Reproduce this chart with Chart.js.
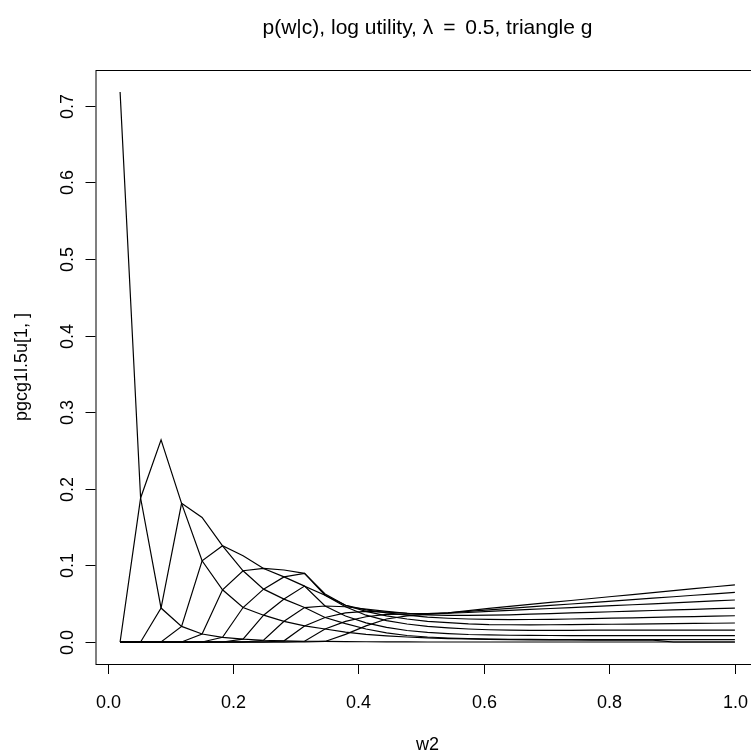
<!DOCTYPE html>
<html>
<head>
<meta charset="utf-8">
<script src="https://cdn.jsdelivr.net/npm/chart.js@4"></script>
<style>
  html, body { margin: 0; padding: 0; background: #fff; overflow: hidden; }
  #wrap { width: 770px; height: 754px; }
</style>
</head>
<body>
<div id="wrap"><canvas id="myChart" width="770" height="754"></canvas></div>
<script>
// w2 grid (31 points) and one row of p(w|c) per curve
const w2 = [0.02, 0.0527, 0.0853, 0.118, 0.1507, 0.1833, 0.216, 0.2487, 0.2813, 0.314,
  0.3467, 0.3793, 0.412, 0.4447, 0.4773, 0.51, 0.5427, 0.5753, 0.608, 0.6407,
  0.6733, 0.706, 0.7387, 0.7713, 0.804, 0.8367, 0.8693, 0.902, 0.9347, 0.9673, 1.0];

const c1 = [0.718, 0.188, 0.0443, 0.0204, 0.0104, 0.0061, 0.0037, 0.0023, 0.0015, 0.001, 0.0007, 0.0005, 0.0003, 0.0002, 0.0001, 0, 0, 0, 0, 0, 0, 0, 0, 0, 0, 0, 0, 0, 0, 0, 0];
const c2 = [0, 0.188, 0.264, 0.181, 0.106, 0.0682, 0.045, 0.035, 0.027, 0.021, 0.017, 0.013, 0.010, 0.008, 0.0065, 0.0055, 0.0045, 0.004, 0.0035, 0.003, 0.0028, 0.0027, 0.0026, 0.0025, 0.0025, 0.0025, 0.0025, 0, 0, 0, 0];
const c3 = [0, 0, 0.0443, 0.181, 0.1626, 0.1256, 0.093, 0.069, 0.056, 0.045, 0.032, 0.024, 0.017, 0.012, 0.0085, 0.0065, 0.0052, 0.0044, 0.0038, 0.0035, 0.0033, 0.0032, 0.0031, 0.003, 0.003, 0.003, 0.003, 0.003, 0.003, 0.003, 0.003];
const c4 = [0, 0, 0, 0.0204, 0.106, 0.1256, 0.1125, 0.096, 0.085, 0.073, 0.047, 0.034, 0.025, 0.019, 0.015, 0.0125, 0.011, 0.0098, 0.0092, 0.0088, 0.0086, 0.0085, 0.0084, 0.0083, 0.0083, 0.0082, 0.0082, 0.0082, 0.0082, 0.0082, 0.0082];
const c5 = [0, 0, 0, 0, 0.0104, 0.0682, 0.093, 0.096, 0.094, 0.0896, 0.061, 0.046, 0.035, 0.028, 0.0235, 0.0205, 0.0185, 0.017, 0.016, 0.0155, 0.0152, 0.0153, 0.0153, 0.0154, 0.0154, 0.0155, 0.0155, 0.0155, 0.0156, 0.0156, 0.0156];
const c6 = [0, 0, 0, 0, 0, 0.0061, 0.045, 0.069, 0.085, 0.0896, 0.0626, 0.048, 0.040, 0.034, 0.030, 0.027, 0.0252, 0.0237, 0.0228, 0.0225, 0.0224, 0.0225, 0.0226, 0.0229, 0.0232, 0.0234, 0.0237, 0.024, 0.0243, 0.0245, 0.0248];
const c7 = [0, 0, 0, 0, 0, 0, 0.0037, 0.035, 0.056, 0.073, 0.061, 0.048, 0.042, 0.038, 0.035, 0.0325, 0.031, 0.030, 0.0295, 0.0293, 0.0294, 0.0296, 0.030, 0.0305, 0.0311, 0.0316, 0.0321, 0.0327, 0.0332, 0.0338, 0.0343];
const c8 = [0, 0, 0, 0, 0, 0, 0, 0.0023, 0.027, 0.045, 0.047, 0.046, 0.043, 0.040, 0.0375, 0.0355, 0.0348, 0.0347, 0.035, 0.0355, 0.0363, 0.0371, 0.0379, 0.0387, 0.0395, 0.0403, 0.0411, 0.0419, 0.0427, 0.0435, 0.0443];
const c9 = [0, 0, 0, 0, 0, 0, 0, 0, 0.0015, 0.021, 0.032, 0.038, 0.040, 0.039, 0.0375, 0.037, 0.0375, 0.0385, 0.040, 0.0412, 0.0425, 0.0437, 0.0449, 0.0462, 0.0474, 0.0486, 0.0499, 0.0511, 0.0523, 0.0536, 0.0548];
const c10 = [0, 0, 0, 0, 0, 0, 0, 0, 0, 0.001, 0.017, 0.027, 0.033, 0.036, 0.0365, 0.037, 0.038, 0.040, 0.042, 0.0439, 0.0458, 0.0477, 0.0496, 0.0515, 0.0534, 0.0553, 0.0572, 0.0591, 0.0610, 0.0629, 0.0648];
const c11 = [0, 0, 0, 0, 0, 0, 0, 0, 0, 0, 0.0007, 0.010, 0.021, 0.030, 0.034, 0.036, 0.038, 0.041, 0.044, 0.0466, 0.0491, 0.0517, 0.0542, 0.0568, 0.0594, 0.0619, 0.0645, 0.0670, 0.0696, 0.0721, 0.0747];

const curves = [c1, c2, c3, c4, c5, c6, c7, c8, c9, c10, c11];

const xTicks = [0, 0.2, 0.4, 0.6, 0.8, 1.0];
const xTickLabels = ['0.0', '0.2', '0.4', '0.6', '0.8', '1.0'];
const yTicks = [0, 0.1, 0.2, 0.3, 0.4, 0.5, 0.6, 0.7];
const yTickLabels = ['0.0', '0.1', '0.2', '0.3', '0.4', '0.5', '0.6', '0.7'];

const mainTitle = ['p(w|c), log utility, ', '\u03BB', ' = ', '0.5, triangle g'];
const xTitle = 'w2';
const yTitle = 'pgcg1l.5u[1, ]';

const FONT = '"Liberation Sans", Arial, Helvetica, sans-serif';

// R style frame: box, outward ticks, labels
const rFrame = {
  id: 'rFrame',
  afterDraw(chart) {
    const ctx = chart.ctx;
    const a = chart.chartArea;
    const xs = chart.scales.x, ys = chart.scales.y;
    const cx = (a.left + a.right) / 2;
    ctx.save();
    ctx.strokeStyle = '#000';
    ctx.fillStyle = '#000';
    ctx.lineWidth = 1;
    ctx.strokeRect(a.left + 0.5, a.top + 0.5, a.right - a.left, a.bottom - a.top);

    ctx.font = '18px ' + FONT;
    ctx.textAlign = 'center';
    ctx.textBaseline = 'middle';
    xTicks.forEach((v, i) => {
      const px = Math.round(xs.getPixelForValue(v)) + 0.5;
      ctx.beginPath();
      ctx.moveTo(px, a.bottom);
      ctx.lineTo(px, a.bottom + 10);
      ctx.stroke();
      ctx.fillText(xTickLabels[i], px, 703);
    });
    yTicks.forEach((v, i) => {
      const py = Math.round(ys.getPixelForValue(v)) + 0.5;
      ctx.beginPath();
      ctx.moveTo(a.left, py);
      ctx.lineTo(a.left - 10, py);
      ctx.stroke();
      ctx.save();
      ctx.translate(68, py);
      ctx.rotate(-Math.PI / 2);
      ctx.fillText(yTickLabels[i], 0, 0);
      ctx.restore();
    });

    ctx.fillText(xTitle, cx, 745);
    ctx.save();
    ctx.translate(22, (a.top + a.bottom) / 2);
    ctx.rotate(-Math.PI / 2);
    ctx.fillText(yTitle, 0, 0);
    ctx.restore();

    // title, plotmath style spacing round the equals sign
    ctx.font = '21px ' + FONT;
    ctx.textAlign = 'left';
    const gap = 4;
    let total = 0;
    mainTitle.forEach((s, i) => { total += ctx.measureText(s).width; });
    total += 2 * gap;
    let px = cx - total / 2;
    mainTitle.forEach((s, i) => {
      ctx.fillText(s, px, 28);
      px += ctx.measureText(s).width + ((i === 1 || i === 2) ? gap : 0);
    });
    ctx.restore();
  }
};

let ctx = document.getElementById('myChart').getContext('2d');
let mychart = new Chart(ctx, {
  type: 'scatter',
  data: {
    datasets: curves.map((c, k) => ({
      label: 'c' + (k + 1),
      data: w2.map((x, i) => ({ x: x, y: c[i] })),
      showLine: true,
      borderColor: '#000',
      borderWidth: 1.2,
      pointRadius: 0,
      tension: 0,
      fill: false
    }))
  },
  options: {
    responsive: false,
    animation: false,
    events: [],
    layout: { padding: { left: 95.5, right: 10.5, top: 70, bottom: 90 } },
    plugins: { legend: { display: false }, tooltip: { enabled: false } },
    scales: {
      x: { type: 'linear', min: -0.0192, max: 1.0392, display: false },
      y: { type: 'linear', min: -0.02872, max: 0.74672, display: false }
    }
  },
  plugins: [rFrame]
});
</script>
</body>
</html>
